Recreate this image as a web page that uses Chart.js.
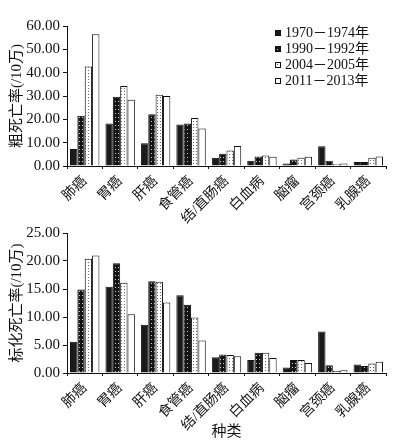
<!DOCTYPE html>
<html>
<head>
<meta charset="utf-8">
<script src="https://cdn.jsdelivr.net/npm/chart.js@4/dist/chart.umd.min.js"></script>
<style>
  html, body { margin: 0; padding: 0; background: #fff; }
  .page { width: 398px; height: 441px; position: relative; overflow: hidden; }
  .wrap { width: 398px; position: absolute; left: 0; }
  #top { top: 0; height: 225px; z-index: 2; }
  #bottom { top: 210px; height: 231px; z-index: 1; }
</style>
</head>
<body>
<div class="page">
  <div class="wrap" id="top"><canvas id="chartTop"></canvas></div>
  <div class="wrap" id="bottom"><canvas id="chartBottom"></canvas></div>
</div>
<script>
const categories = ['肺癌', '胃癌', '肝癌', '食管癌', '结/直肠癌', '白血病', '脑瘤', '宫颈癌', '乳腺癌'];
const periods = ['1970－1974年', '1990－1992年', '2004－2005年', '2011－2013年'];

// 粗死亡率
const crude1970 = [7.3, 18.2, 9.7, 17.8, 3.5, 2.3, 1.1, 8.5, 1.7];
const crude1990 = [21.5, 29.7, 22.2, 18.2, 5.2, 4.1, 2.8, 2.3, 1.7];
const crude2004 = [42.6, 34.3, 30.5, 20.6, 6.6, 4.5, 3.5, 0.8, 3.5];
const crude2011 = [56.5, 28.4, 30.0, 16.1, 8.6, 4.0, 4.0, 1.1, 4.1];

// 标化死亡率
const std1970 = [5.6, 15.4, 8.6, 13.9, 2.8, 2.3, 1.0, 7.4, 1.5];
const std1990 = [14.9, 19.6, 16.4, 12.2, 3.3, 3.6, 2.3, 1.4, 1.25];
const std2004 = [20.4, 16.1, 16.3, 9.9, 3.2, 3.6, 2.3, 0.4, 1.7];
const std2011 = [21.0, 10.5, 12.6, 5.8, 3.0, 2.7, 1.8, 0.5, 2.0];

const FONT = "'Liberation Serif', 'Noto Sans CJK SC', serif";

const makePattern = (bg, dot, w, h, dots) => {
  const c = document.createElement('canvas');
  c.width = w;
  c.height = h;
  const g = c.getContext('2d');
  g.fillStyle = bg;
  g.fillRect(0, 0, w, h);
  g.fillStyle = dot;
  dots.forEach(([x, y]) => g.fillRect(x, y, 1, 1));
  return g.createPattern(c, 'repeat');
};

const fills = [
  '#1a1a1a',
  makePattern('#141414', '#d0d0d0', 3, 4, [[1, 1]]),
  makePattern('#ffffff', '#666666', 3, 3, [[1, 1]]),
  '#ffffff'
];

const legendPlugin = {
  id: 'sideLegend',
  afterDraw(chart) {
    if (!chart.options.plugins.sideLegend.show) return;
    const ctx = chart.ctx;
    ctx.save();
    ctx.font = '14px ' + FONT;
    ctx.textBaseline = 'middle';
    chart.data.datasets.forEach((ds, i) => {
      const y = 33 + i * 16;
      ctx.fillStyle = ds.backgroundColor;
      ctx.fillRect(275, y - 3, 6, 6);
      ctx.strokeStyle = '#111';
      ctx.lineWidth = 1;
      ctx.strokeRect(275.5, y - 2.5, 5, 5);
      ctx.fillStyle = '#111';
      ctx.fillText(ds.label, 285, y);
    });
    ctx.restore();
  }
};

const buildChart = (id, series, yMax, step, yTitle, xTitle, showLegend, xHeight, padTop) => {
  const ctx = document.getElementById(id).getContext('2d');
  return new Chart(ctx, {
    type: 'bar',
    data: {
      labels: categories,
      datasets: series.map((data, i) => ({
        label: periods[i],
        data: data,
        backgroundColor: fills[i],
        borderColor: '#111',
        borderWidth: 1,
        borderSkipped: 'bottom',
        barPercentage: 1,
        categoryPercentage: 0.83
      }))
    },
    options: {
      responsive: true,
      maintainAspectRatio: false,
      animation: false,
      layout: { padding: { top: padTop, right: 12, left: 8, bottom: 0 } },
      plugins: {
        legend: { display: false },
        tooltip: { enabled: false },
        sideLegend: { show: showLegend }
      },
      scales: {
        x: {
          grid: { display: true, drawOnChartArea: false, color: '#111', tickLength: 3, offset: true },
          border: { display: true, color: '#111' },
          ticks: {
            color: '#111',
            font: { family: FONT, size: 14 },
            minRotation: 45,
            maxRotation: 45,
            autoSkip: false,
            padding: 4
          },
          title: {
            display: !!xTitle,
            text: xTitle,
            color: '#111',
            font: { family: FONT, size: 15 },
            padding: { top: 0, bottom: 0 }
          },
          afterFit(scale) { scale.height = xHeight; }
        },
        y: {
          min: 0,
          max: yMax,
          grid: { display: true, drawOnChartArea: false, color: '#111', tickLength: 4 },
          border: { display: true, color: '#111' },
          ticks: {
            stepSize: step,
            color: '#111',
            padding: 3,
            font: { family: FONT, size: 15 },
            callback: (v) => Number(v).toFixed(2)
          },
          title: {
            display: true,
            text: yTitle,
            color: '#111',
            font: { family: FONT, size: 15 },
            padding: { top: 0, bottom: 0 }
          },
          afterFit(scale) { scale.width = 59; }
        }
      }
    },
    plugins: [legendPlugin]
  });
};

buildChart('chartTop', [crude1970, crude1990, crude2004, crude2011], 60, 10,
  '粗死亡率(/10万)', '', true, 59, 26);
buildChart('chartBottom', [std1970, std1990, std2004, std2011], 25, 5,
  '标化死亡率(/10万)', '种类', false, 68, 23);
</script>
</body>
</html>
